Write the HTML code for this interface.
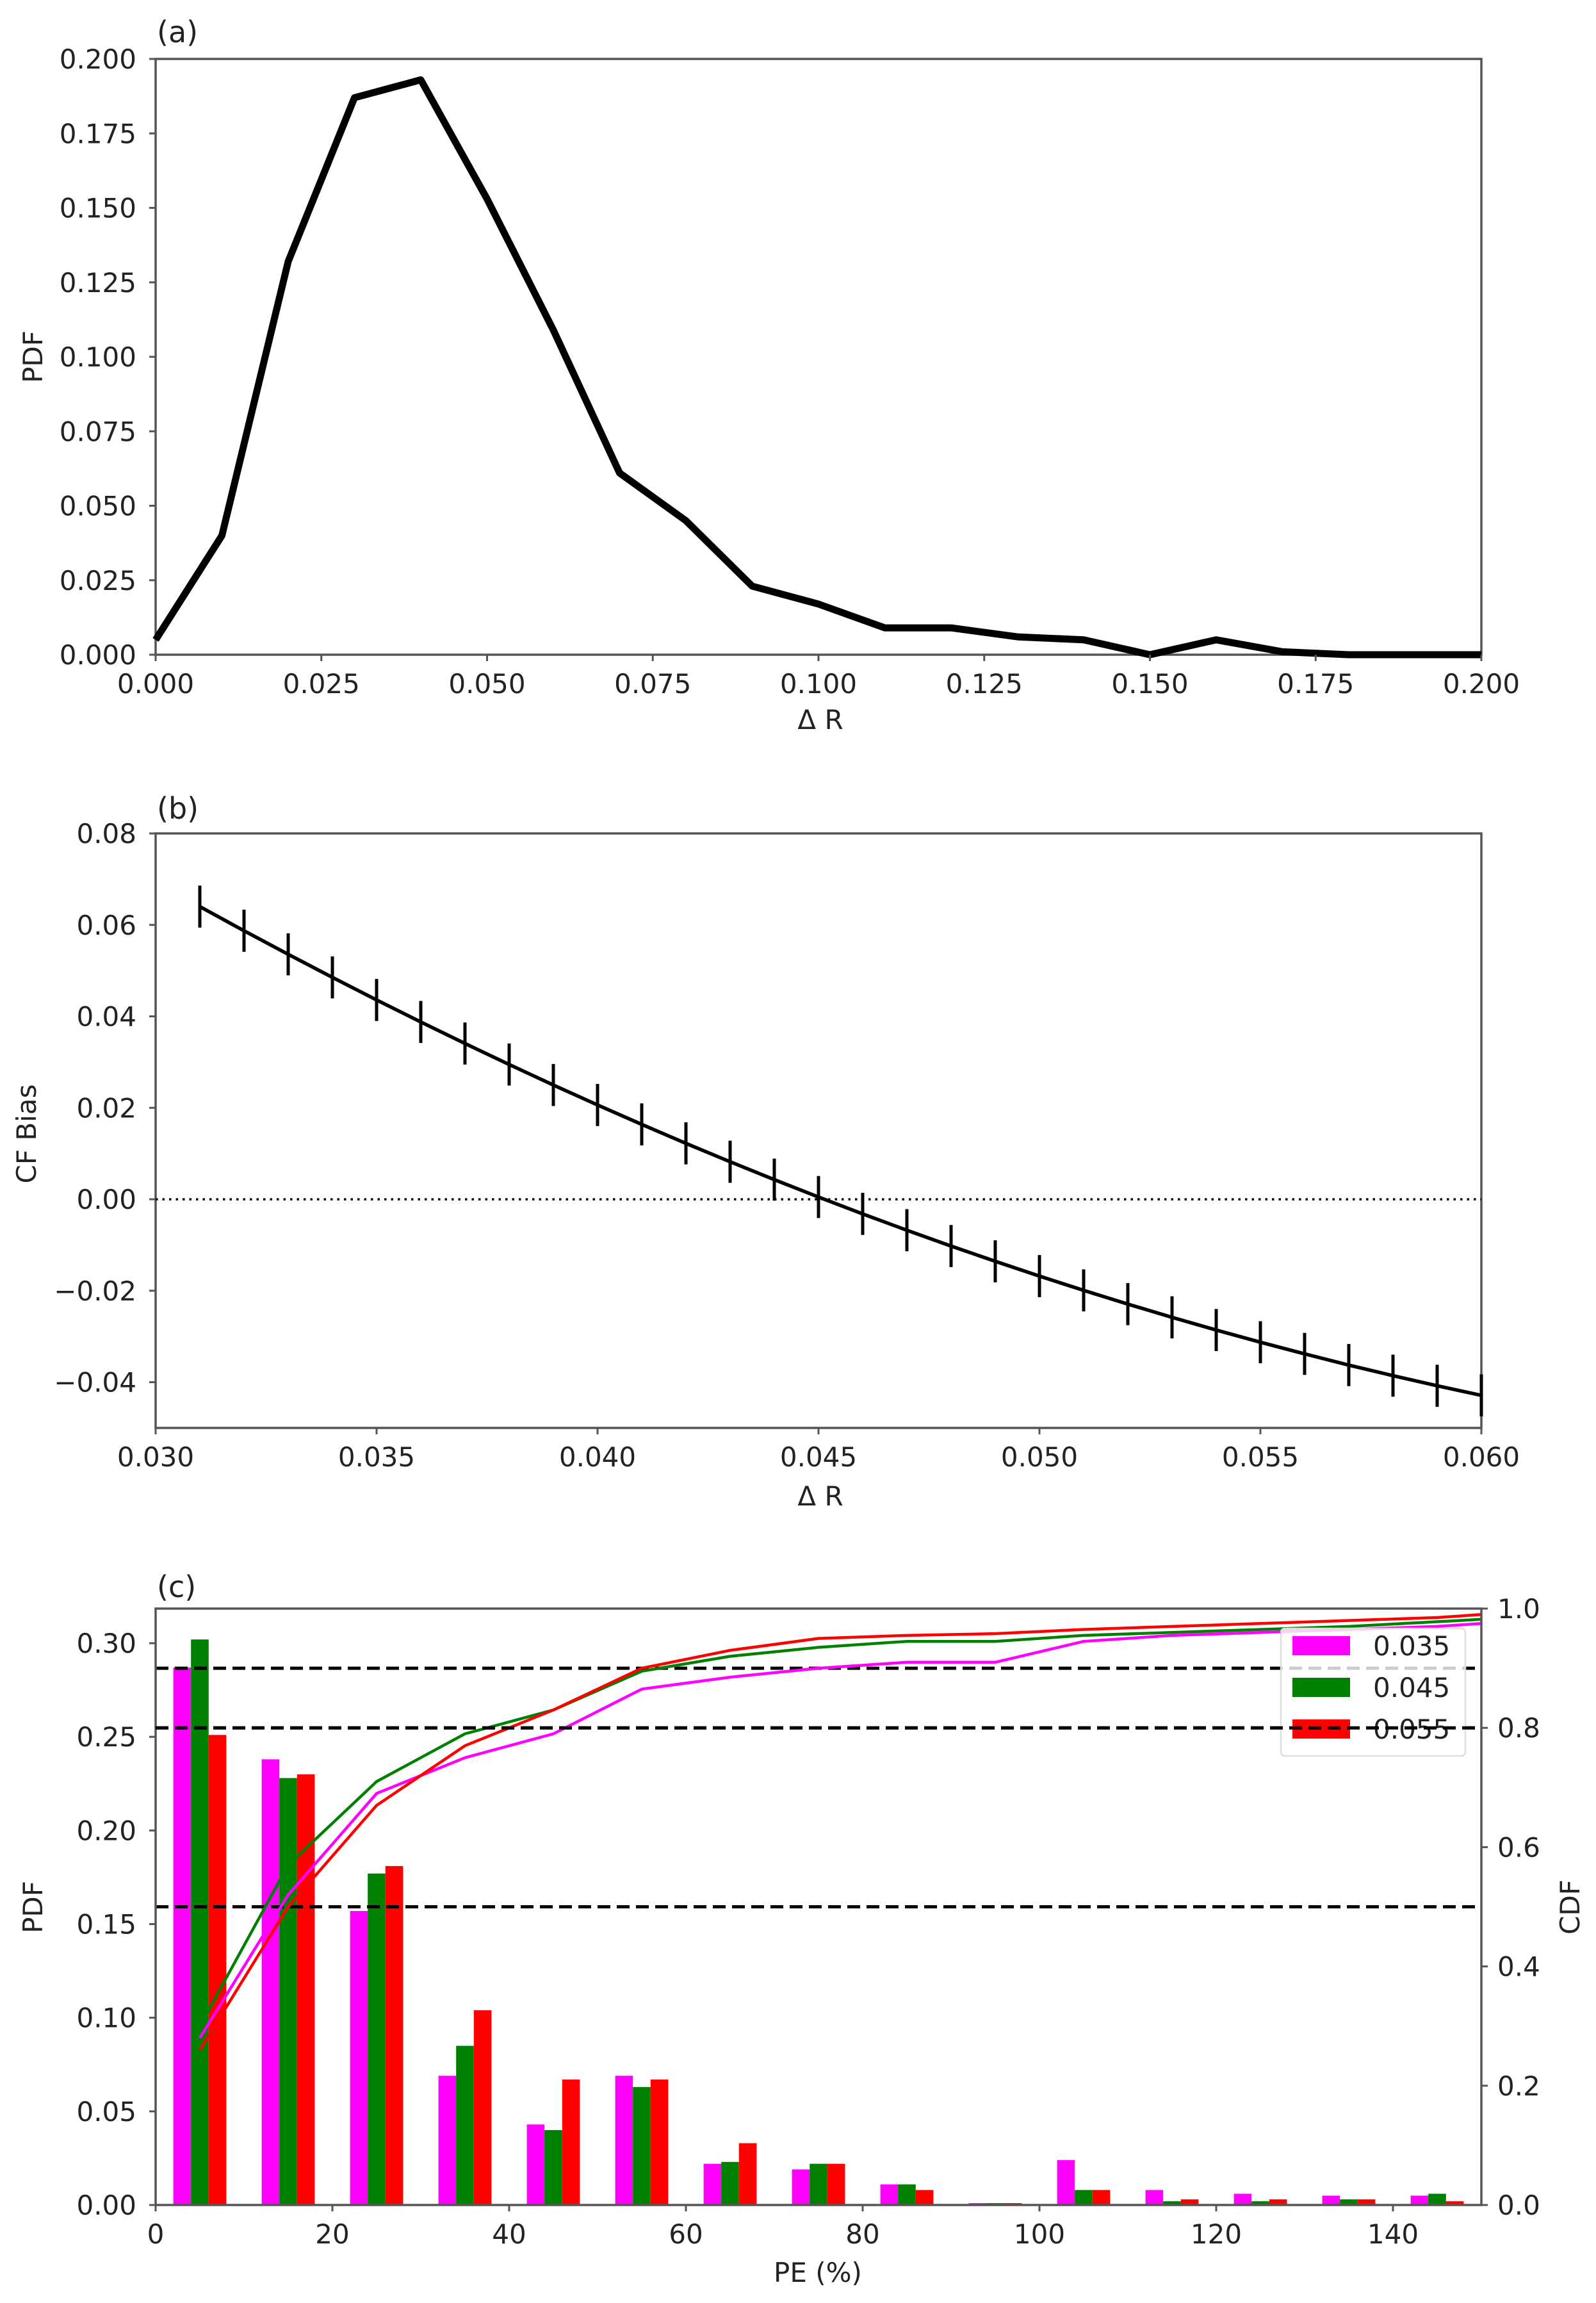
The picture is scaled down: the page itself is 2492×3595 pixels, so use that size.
<!DOCTYPE html>
<html><head><meta charset="utf-8">
<style>
html,body{margin:0;padding:0;background:#fff;}
svg{display:block;}
text{font-family:"DejaVu Sans","Liberation Sans",sans-serif;fill:#222;}
</style></head>
<body>
<svg id="s" xmlns="http://www.w3.org/2000/svg" width="2492" height="3595" viewBox="0 0 2492 3595"></svg>
<script>
const S=document.getElementById('s');
let h='';
const L=243,R=2313;
const FS=42;
function ax(x0,x1,y0,y1,X0,X1,Y0,Y1){
  return {sx:x=>X0+(x-x0)/(x1-x0)*(X1-X0), sy:y=>Y1-(y-y0)/(y1-y0)*(Y1-Y0)};
}
function frame(T,B){
  h+=`<rect x="${L}" y="${T}" width="${R-L}" height="${B-T}" fill="none" stroke="#555" stroke-width="3.5"/>`;
}
function xt(sx,B,vals,fmt){
  for(const v of vals){const x=sx(v);
    h+=`<line x1="${x}" y1="${B}" x2="${x}" y2="${B+10}" stroke="#555" stroke-width="3"/>`;
    h+=`<text x="${x}" y="${B+60}" font-size="${FS}" text-anchor="middle">${fmt(v)}</text>`;}
}
function yt(sy,vals,fmt,right){
  for(const v of vals){const y=sy(v);
    if(!right){h+=`<line x1="${L-10}" y1="${y}" x2="${L}" y2="${y}" stroke="#555" stroke-width="3"/>`;
    h+=`<text x="213" y="${y+15}" font-size="${FS}" text-anchor="end">${fmt(v)}</text>`;}
    else{h+=`<line x1="${R}" y1="${y}" x2="${R+10}" y2="${y}" stroke="#555" stroke-width="3"/>`;
    h+=`<text x="2338" y="${y+15}" font-size="${FS}" text-anchor="start">${fmt(v)}</text>`;}
  }
}
function poly(pts,st,w,extra){h+=`<polyline points="${pts.map(p=>p[0].toFixed(1)+','+p[1].toFixed(1)).join(' ')}" fill="none" stroke="${st}" stroke-width="${w}" stroke-linejoin="round" ${extra||''}/>`;}
const mdash='\u2212';
function fm(d){return v=>(v<0?mdash:'')+Math.abs(v).toFixed(d);}

// Panel a
{const T=92,B=1022;const a=ax(0,0.2,0,0.2,L,R,T,B);
 const ys=[0.005,0.04,0.132,0.187,0.193,0.153,0.109,0.061,0.045,0.023,0.017,0.009,0.009,0.006,0.005,0.0,0.005,0.001,0,0,0];
 frame(T,B);
 poly(ys.map((y,i)=>[a.sx(i*0.01),a.sy(y)]),'#000',11);
 xt(a.sx,B,[0,0.025,0.05,0.075,0.1,0.125,0.15,0.175,0.2],fm(3));
 yt(a.sy,[0,0.025,0.05,0.075,0.1,0.125,0.15,0.175,0.2],fm(3));
 h+=`<text x="245" y="66" font-size="46">(a)</text>`;
 h+=`<text x="1281" y="1138" font-size="${FS}" text-anchor="middle">Δ R</text>`;
 h+=`<text transform="translate(66,557) rotate(-90)" font-size="${FS}" text-anchor="middle">PDF</text>`;
}
// Panel b
{const T=1301,B=2229;const a=ax(0.03,0.06,-0.05,0.08,L,R,T,B);
 frame(T,B);
 h+=`<line x1="${L}" y1="${a.sy(0)}" x2="${R}" y2="${a.sy(0)}" stroke="#000" stroke-width="3.5" stroke-dasharray="3.5,7"/>`;
 const pts=[];
 for(let i=0;i<=29;i++){const x=0.031+i*0.001,t=x-0.031;const y=0.064-5.33*t+56.7*t*t;pts.push([a.sx(x),a.sy(y)]);
   const e=0.0046;h+=`<line x1="${a.sx(x)}" y1="${a.sy(y+e)}" x2="${a.sx(x)}" y2="${a.sy(y-e)}" stroke="#000" stroke-width="5"/>`;}
 poly(pts,'#000',5.5);
 xt(a.sx,B,[0.03,0.035,0.04,0.045,0.05,0.055,0.06],fm(3));
 yt(a.sy,[-0.04,-0.02,0,0.02,0.04,0.06,0.08],fm(2));
 h+=`<text x="245" y="1278" font-size="46">(b)</text>`;
 h+=`<text x="1281" y="2350" font-size="${FS}" text-anchor="middle">Δ R</text>`;
 h+=`<text transform="translate(56,1770) rotate(-90)" font-size="${FS}" text-anchor="middle">CF Bias</text>`;
}
// Panel c
{const T=2511,B=3442;const a=ax(0,150,0,0.3185,L,R,T,B);const c=ax(0,150,0,1,L,R,T,B);
 const M=[0.287,0.238,0.157,0.069,0.043,0.069,0.022,0.019,0.011,0.001,0.024,0.008,0.006,0.005,0.005];
 const G=[0.302,0.228,0.177,0.085,0.040,0.063,0.023,0.022,0.011,0.001,0.008,0.002,0.002,0.003,0.006];
 const Rr=[0.251,0.230,0.181,0.104,0.067,0.067,0.033,0.022,0.008,0.001,0.008,0.003,0.003,0.003,0.002];
 [[M,'#ff00ff',-3],[G,'#008000',-1],[Rr,'#ff0000',1]].forEach(([d,col,off])=>{
   d.forEach((v,i)=>{const cx=5+10*i;const x0=a.sx(cx+off),x1=a.sx(cx+off+2);
     h+=`<rect x="${x0}" y="${a.sy(v)}" width="${x1-x0}" height="${B-a.sy(v)}" fill="${col}"/>`;});
 });
 [0.9,0.8,0.5].forEach(v=>{h+=`<line x1="${L}" y1="${c.sy(v)}" x2="${R}" y2="${c.sy(v)}" stroke="#000" stroke-width="5" stroke-dasharray="20,10"/>`;});
 const xs=[5,15,25,35,45,55,65,75,85,95,105,115,125,135,145,150];
 const cm=[0.28,0.52,0.69,0.75,0.79,0.865,0.885,0.90,0.91,0.91,0.945,0.955,0.96,0.965,0.97,0.975];
 const cg=[0.30,0.57,0.71,0.79,0.83,0.895,0.92,0.935,0.945,0.945,0.955,0.96,0.965,0.97,0.978,0.982];
 const cr=[0.26,0.50,0.67,0.77,0.83,0.90,0.93,0.95,0.955,0.958,0.965,0.97,0.975,0.98,0.985,0.99];
 poly(xs.map((x,i)=>[c.sx(x),c.sy(cm[i])]),'#ff00ff',4.5);
 poly(xs.map((x,i)=>[c.sx(x),c.sy(cg[i])]),'#008000',4.5);
 poly(xs.map((x,i)=>[c.sx(x),c.sy(cr[i])]),'#ff0000',4.5);
 frame(T,B);
 xt(a.sx,B,[0,20,40,60,80,100,120,140],v=>v);
 yt(a.sy,[0,0.05,0.1,0.15,0.2,0.25,0.3],fm(2));
 yt(c.sy,[0,0.2,0.4,0.6,0.8,1.0],fm(1),true);
 // legend
 h+=`<rect x="2000" y="2542" width="288" height="199" rx="6" fill="#fff" fill-opacity="0.8" stroke="#ddd" stroke-width="2.5"/>`;
 const ly=[2569,2634,2699];const lc=['#ff00ff','#008000','#ff0000'];const lt=['0.035','0.045','0.055'];
 for(let i=0;i<3;i++){h+=`<rect x="2018" y="${ly[i]-15}" width="90" height="30" fill="${lc[i]}"/>`;
   h+=`<text x="2144" y="${ly[i]+15}" font-size="${FS}">${lt[i]}</text>`;}
 h+=`<line x1="${L}" y1="${c.sy(0.8)}" x2="${R}" y2="${c.sy(0.8)}" stroke="#000" stroke-width="5" stroke-dasharray="20,10"/>`;
 h+=`<text x="245" y="2493" font-size="46">(c)</text>`;
 h+=`<text x="1277" y="3562" font-size="${FS}" text-anchor="middle">PE (%)</text>`;
 h+=`<text transform="translate(66,2977) rotate(-90)" font-size="${FS}" text-anchor="middle">PDF</text>`;
 h+=`<text transform="translate(2466,2977) rotate(-90)" font-size="${FS}" text-anchor="middle">CDF</text>`;
}
S.innerHTML=h;
</script>
</body></html>
